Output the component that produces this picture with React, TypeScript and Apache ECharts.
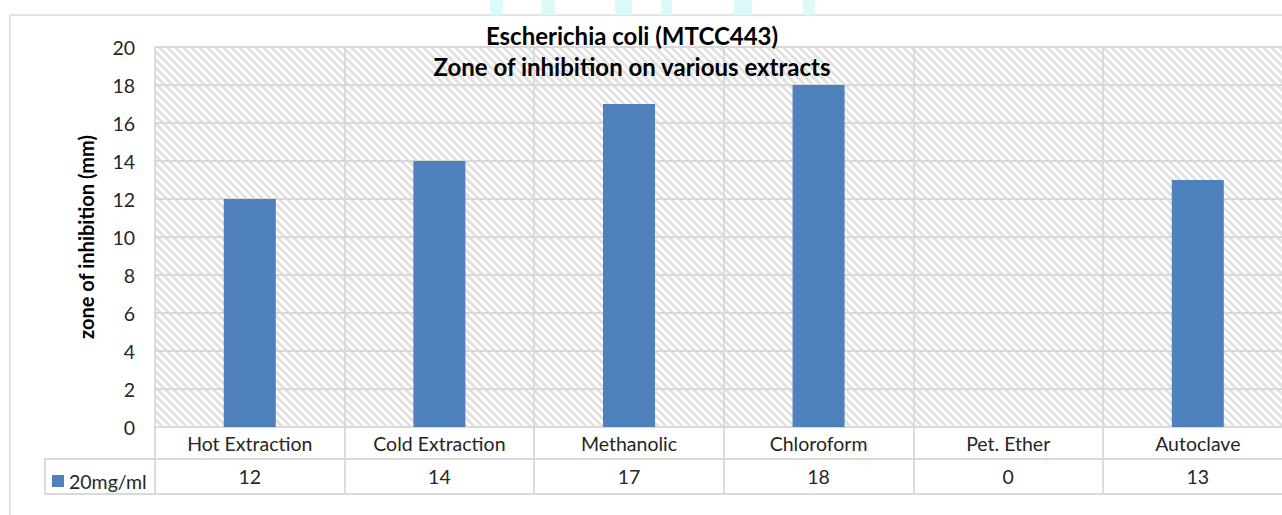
import React, { useEffect, useRef } from "react";
import * as echarts from "echarts";

const categories = ["Hot Extraction", "Cold Extraction", "Methanolic", "Chloroform", "Pet. Ether", "Autoclave"];
const seriesName = "20mg/ml";
const values = [12, 14, 17, 18, 0, 13];
const titleLines = ["Escherichia coli (MTCC443)", "Zone of inhibition on various extracts"];
const yAxisTitle = "zone of inhibition (mm)";

const FONT = "Lato, 'Open Sans', sans-serif";
const GRID = "#d9d9d9";
const TEXT = "#262626";

const hatchSvg =
  "<svg xmlns='http://www.w3.org/2000/svg' width='8' height='8'>" +
  "<rect width='8' height='8' fill='white'/>" +
  "<path d='M0,0 L8,8 M-4,4 L4,12 M4,-4 L12,4' stroke='#e0e0e0' stroke-width='2.8'/>" +
  "</svg>";
const hatchUrl = "data:image/svg+xml;charset=utf-8," + encodeURIComponent(hatchSvg);

export default function App() {
  const ref = useRef<HTMLDivElement>(null);
  useEffect(() => {
    if (!ref.current) return;
    const chart = echarts.init(ref.current, null, { renderer: "svg" });
    const cyan = [
      [490, 13], [541, 14], [615, 17], [661, 11], [734, 18], [803, 12],
    ];
    chart.setOption({
      animation: false,
      backgroundColor: "#ffffff",
      title: {
        text: titleLines.join("\n"),
        left: 627,
        textAlign: "center",
        top: 15,
        textStyle: { fontFamily: FONT, fontSize: 24, fontWeight: "bold", color: "#000", lineHeight: 31 },
      },
      legend: {
        left: 47,
        top: 466,
        icon: "rect",
        itemWidth: 12,
        itemHeight: 12,
        itemGap: 5,
        data: [seriesName],
        textStyle: { fontFamily: FONT, fontSize: 19.5, color: TEXT, padding: [0, 0, 0, 0] },
      },
      grid: {
        left: 155,
        top: 47,
        width: 1137.6,
        height: 380,
        show: true,
        borderWidth: 0,
        outerBoundsMode: "none",
        backgroundColor: { image: hatchUrl, repeat: "repeat", imageWidth: 8, imageHeight: 8 },
        containLabel: false,
      },
      xAxis: [
        {
          type: "category",
          data: categories,
          boundaryGap: true,
          axisLine: { show: true, lineStyle: { color: GRID, width: 1.8 } },
          axisTick: { show: true, interval: 0, length: 32, lineStyle: { color: GRID, width: 1.8 } },
          axisLabel: {
            interval: 0,
            margin: 16,
            verticalAlign: "middle",
            fontFamily: FONT,
            fontSize: 19.5,
            color: TEXT,
          },
          splitLine: { show: true, interval: 0, lineStyle: { color: GRID, width: 1.8 } },
        },
        {
          type: "category",
          data: values.map((v) => String(v)),
          position: "bottom",
          offset: 32,
          boundaryGap: true,
          axisLine: { show: true, lineStyle: { color: GRID, width: 1.8 } },
          axisTick: { show: true, interval: 0, length: 35, lineStyle: { color: GRID, width: 1.8 } },
          axisLabel: {
            interval: 0,
            margin: 17,
            verticalAlign: "middle",
            fontFamily: FONT,
            fontSize: 19.5,
            color: TEXT,
          },
          splitLine: { show: false },
        },
      ],
      yAxis: {
        type: "value",
        min: 0,
        max: 20,
        interval: 2,
        name: yAxisTitle,
        nameLocation: "middle",
        nameRotate: 90,
        nameGap: 59,
        nameTextStyle: { fontFamily: FONT, fontSize: 20, fontWeight: "bold", color: "#000" },
        axisLine: { show: false },
        axisTick: { show: false },
        axisLabel: { margin: 20, fontFamily: FONT, fontSize: 19.5, color: TEXT },
        splitLine: { show: true, lineStyle: { color: GRID, width: 1.8 } },
      },
      series: [
        {
          name: seriesName,
          type: "bar",
          xAxisIndex: 0,
          data: values,
          barWidth: 52,
          itemStyle: { color: "#4f81bd" },
        },
      ],
      graphic: [
        {
          type: "rect",
          shape: { x: 10, y: 15, width: 1400, height: 600 },
          style: { fill: "none", stroke: GRID, lineWidth: 1.5 },
          z: 0,
        },
        {
          type: "rect",
          shape: { x: 45, y: 459, width: 110, height: 35 },
          style: { fill: "none", stroke: GRID, lineWidth: 1.8 },
        },
        {
          type: "line",
          shape: { x1: 155, y1: 494, x2: 1300, y2: 494 },
          style: { stroke: GRID, lineWidth: 1.8 },
        },
        ...cyan.map(([x, w]) => ({
          type: "rect",
          shape: { x, y: 0, width: w, height: 15 },
          style: { fill: "#dcfafa" },
        })),
      ],
    });
    return () => chart.dispose();
  }, []);
  return (
    <div
      ref={ref}
      style={{ position: "fixed", left: 0, top: 0, width: 1282, height: 515 }}
    />
  );
}
